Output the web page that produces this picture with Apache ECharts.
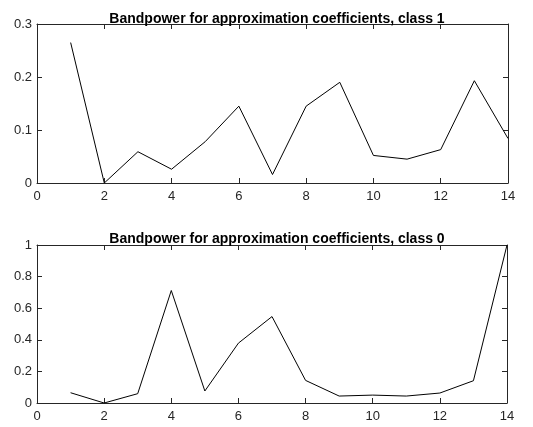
<!DOCTYPE html>
<html>
<head>
<meta charset="utf-8">
<script src="https://cdn.jsdelivr.net/npm/echarts@6/dist/echarts.min.js"></script>
<style>html,body{margin:0;padding:0;background:#fff;}#c{width:533px;height:427px;}</style>
</head>
<body>
<div id="c"></div>
<script>
var xs = [1,2,3,4,5,6,7,8,9,10,11,12,13,14];
var class1 = [0.265,0.0,0.059,0.026,0.078,0.145,0.016,0.145,0.19,0.052,0.045,0.063,0.193,0.084];
var class0 = [0.065,0.0,0.059,0.712,0.076,0.379,0.547,0.143,0.044,0.05,0.044,0.063,0.141,1.0];
var title1 = 'Bandpower for approximation coefficients, class 1';
var title0 = 'Bandpower for approximation coefficients, class 0';

var AX = '#262626';
var FONT = 'Arial, "Liberation Sans", sans-serif';
function pairs(v){ return xs.map(function(x,i){ return [x, v[i]]; }); }
function xAx(grid, pos, labels){
  return {type:'value', gridIndex:grid, position:pos, min:0, max:14, interval:2,
    axisLine:{show:true, onZero:false, lineStyle:{color:AX, width:1}},
    axisTick:{show:true, inside:true, length:5, lineStyle:{color:AX}},
    axisLabel:{show:labels, color:AX, fontSize:13, fontFamily:FONT, margin:7},
    splitLine:{show:false}};
}
function yAx(grid, pos, max, iv, labels){
  return {type:'value', gridIndex:grid, position:pos, min:0, max:max, interval:iv,
    axisLine:{show:true, onZero:false, lineStyle:{color:AX, width:1}},
    axisTick:{show:true, inside:true, length:5, lineStyle:{color:AX}},
    axisLabel:{show:labels, color:AX, fontSize:13, fontFamily:FONT, margin:5},
    splitLine:{show:false}};
}
var chart = echarts.init(document.getElementById('c'), null, {renderer:'canvas'});
chart.setOption({
  backgroundColor:'#fff',
  animation:false,
  title:[
    {text:title1, left:272, top:7, textAlign:'center', textStyle:{fontSize:14, fontWeight:'bold', color:'#000', fontFamily:FONT}},
    {text:title0, left:272, top:227, textAlign:'center', textStyle:{fontSize:14, fontWeight:'bold', color:'#000', fontFamily:FONT}}
  ],
  grid:[
    {left:37, top:24, width:471, height:159},
    {left:37, top:245, width:470, height:158}
  ],
  xAxis:[xAx(0,'bottom',true), xAx(0,'top',false), xAx(1,'bottom',true), xAx(1,'top',false)],
  yAxis:[yAx(0,'left',0.3,0.1,true), yAx(0,'right',0.3,0.1,false), yAx(1,'left',1,0.2,true), yAx(1,'right',1,0.2,false)],
  series:[
    {type:'line', xAxisIndex:0, yAxisIndex:0, data:pairs(class1), showSymbol:false, lineStyle:{color:'#000', width:1}, itemStyle:{color:'#000'}},
    {type:'line', xAxisIndex:2, yAxisIndex:2, data:pairs(class0), showSymbol:false, lineStyle:{color:'#000', width:1}, itemStyle:{color:'#000'}}
  ]
});
</script>
</body>
</html>
